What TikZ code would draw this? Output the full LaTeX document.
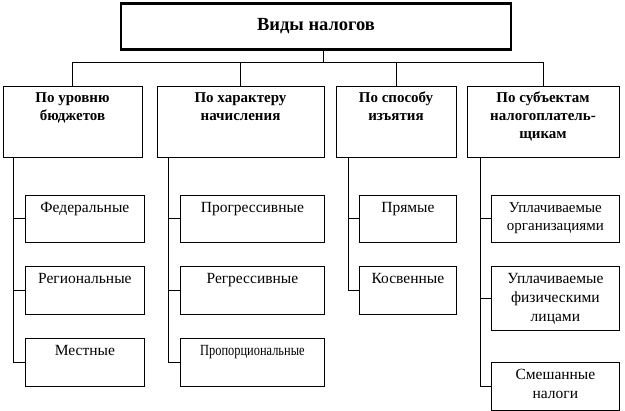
\documentclass[tikz,border=0pt]{standalone}
\usepackage{fontspec}
\setmainfont{Liberation Serif}
\usetikzlibrary{positioning}

\tikzset{
  head/.style={draw,thick,minimum width=#1,minimum height=71pt,anchor=north},
  box/.style={draw,thick,minimum width=#1,anchor=north west},
  htext/.style={align=center,inner sep=0pt,font=\bfseries\fontsize{15}{18}\selectfont},
  stext/.style={align=center,inner sep=0pt,font=\fontsize{15.5}{19}\selectfont},
  link/.style={thick}
}

\begin{document}
\begin{tikzpicture}[x=1pt,y=-1pt]
\useasboundingbox (0,0) rectangle (625,411);
% title
\node[draw,line width=2.4pt,minimum width=390pt,minimum height=46pt,
  font=\bfseries\fontsize{18.5}{20}\selectfont] (vid) at (316,26.5) {Виды налогов};
\coordinate (bus) at (323,62);
\coordinate (busl) at (72,62);
\coordinate (busr) at (543,62);
\draw[link] (vid.south -| bus) -- (bus);
\draw[link] (busl) -- (busr);
% column headers
\node[head=139pt] (c1) at (72.5,86) {};
\node[htext,below=6pt of c1.north] {По уровню\\бюджетов};
\node[head=167pt] (c2) at (240.5,86) {};
\node[htext,below=6pt of c2.north] {По характеру\\начисления};
\node[head=120pt] (c3) at (396,86) {};
\node[htext,below=6pt of c3.north] {По способу\\изъятия};
\node[head=152pt] (c4) at (543,86) {};
\node[htext,below=6pt of c4.north] {По субъектам\\налогоплатель-\\щикам};
\foreach \c in {c1,c2,c3,c4} \draw[link] (\c.north |- busl) -- (\c.north);
% column 1
\node[box=119pt,minimum height=47pt] (f1) at (25,195) {};
\node[stext,below=7pt of f1.north] {Федеральные};
\node[box=119pt,minimum height=48pt] (f2) at (25,266) {};
\node[stext,below=7pt of f2.north] {Региональные};
\node[box=119pt,minimum height=48pt] (f3) at (25,338) {};
\node[stext,below=7pt of f3.north] {Местные};
\draw[link] (13,157) |- (f3.west);
\foreach \b in {f1,f2} \draw[link] (13,0 |- \b.west) -- (\b.west);
% column 2
\node[box=144pt,minimum height=47pt] (p1) at (180,195) {};
\node[stext,below=7pt of p1.north] {Прогрессивные};
\node[box=144pt,minimum height=48pt] (p2) at (180,266) {};
\node[stext,below=7pt of p2.north] {Регрессивные};
\node[box=144pt,minimum height=48pt] (p3) at (180,338) {};
\node[stext,below=7pt of p3.north] {\scalebox{0.8}[1]{Пропорциональные}};
\draw[link] (168,157) |- (p3.west);
\foreach \b in {p1,p2} \draw[link] (168,0 |- \b.west) -- (\b.west);
% column 3
\node[box=97pt,minimum height=47pt] (s1) at (359,195) {};
\node[stext,below=7pt of s1.north] {Прямые};
\node[box=97pt,minimum height=48pt] (s2) at (359,266) {};
\node[stext,below=7pt of s2.north] {Косвенные};
\draw[link] (348,157) |- (s2.west);
\draw[link] (348,0 |- s1.west) -- (s1.west);
% column 4
\node[box=128pt,minimum height=47pt] (u1) at (491,195) {};
\node[stext,below=7pt of u1.north,font=\fontsize{15}{18}\selectfont] {Уплачиваемые\\организациями};
\node[box=128pt,minimum height=64pt] (u2) at (491,266) {};
\node[stext,below=7pt of u2.north] {Уплачиваемые\\физическими\\лицами};
\node[box=128pt,minimum height=48pt] (u3) at (491,362) {};
\node[stext,below=7pt of u3.north] {Смешанные\\налоги};
\draw[link] (480,157) |- (u3.west);
\foreach \b in {u1,u2} \draw[link] (480,0 |- \b.west) -- (\b.west);
\end{tikzpicture}
\end{document}
